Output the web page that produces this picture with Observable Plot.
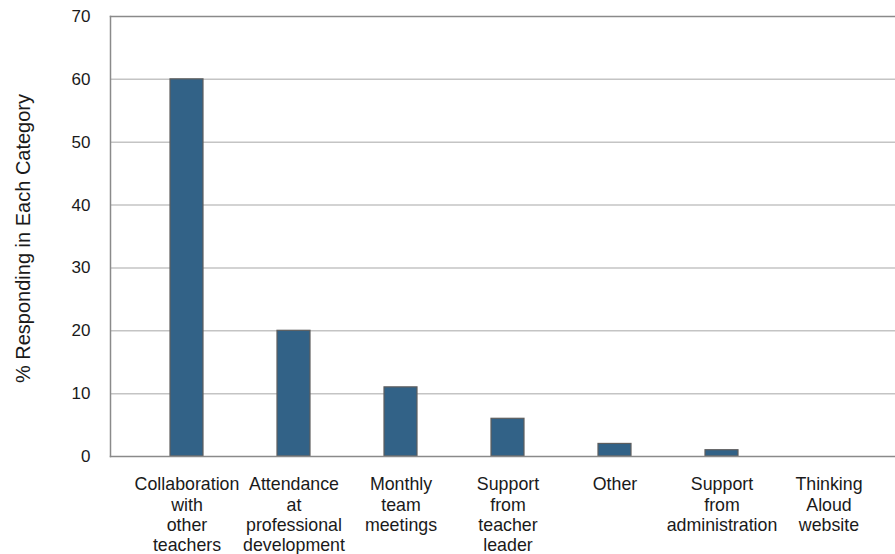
<!DOCTYPE html>
<html>
<head>
<meta charset="utf-8">
<script src="https://cdn.jsdelivr.net/npm/d3@7"></script>
<script src="https://cdn.jsdelivr.net/npm/@observablehq/plot@0.6"></script>
<style>
  html, body { margin: 0; padding: 0; background: #fff; }
  #chart svg { display: block; }
</style>
</head>
<body>
<div id="chart"></div>
<script>
// Survey responses: sources of support, % responding in each category
const categories = [
  "Collaboration\nwith\nother\nteachers",
  "Attendance\nat\nprofessional\ndevelopment",
  "Monthly\nteam\nmeetings",
  "Support\nfrom\nteacher\nleader",
  "Other",
  "Support\nfrom\nadministration",
  "Thinking\nAloud\nwebsite"
];
const percents = [60, 20, 11, 6, 2, 1, 0];
const yTicks = [0, 10, 20, 30, 40, 50, 60, 70];
const gridTicks = [10, 20, 30, 40, 50, 60];
const yTitle = "% Responding in Each Category";

const rows = categories.map((c, i) => ({category: c, value: percents[i]}));

const font = "'Liberation Sans', Arial, sans-serif";

const chart = Plot.plot({
  width: 895,
  height: 554,
  marginLeft: 110,
  marginRight: 0,
  marginTop: 16,
  marginBottom: 98,
  style: {fontFamily: font, color: "#1a1a1a", background: "#fff"},
  x: {domain: categories, range: [132, 882], padding: 0},
  y: {domain: [0, 70]},
  marks: [
    Plot.gridY(gridTicks, {stroke: "#c4c4c4", strokeOpacity: 1, strokeWidth: 1.5}),
    Plot.frame({anchor: "top", stroke: "#8a8a8a", strokeWidth: 1.5}),
    Plot.frame({anchor: "left", stroke: "#8a8a8a", strokeWidth: 1.5}),
    Plot.barY(rows, {
      x: "category",
      y: "value",
      fill: "#326287",
      stroke: "#5e5e5e",
      strokeWidth: 1.2,
      insetLeft: 37,
      insetRight: 37
    }),
    Plot.frame({anchor: "bottom", stroke: "#8a8a8a", strokeWidth: 1.5}),
    Plot.axisY(yTicks, {
      tickSize: 0,
      tickPadding: 20,
      fontSize: 17,
      label: null
    }),
    Plot.axisX({
      tickSize: 0,
      tickPadding: 19,
      fontSize: 17.8,
      lineHeight: 1.15,
      lineAnchor: "top",
      label: null
    }),
    Plot.text([yTitle], {
      frameAnchor: "left",
      textAnchor: "middle",
      lineAnchor: "middle",
      rotate: -90,
      dx: -87,
      dy: 2,
      fontSize: 20,
      fill: "#1a1a1a"
    })
  ]
});

document.getElementById("chart").appendChild(chart);
</script>
</body>
</html>
